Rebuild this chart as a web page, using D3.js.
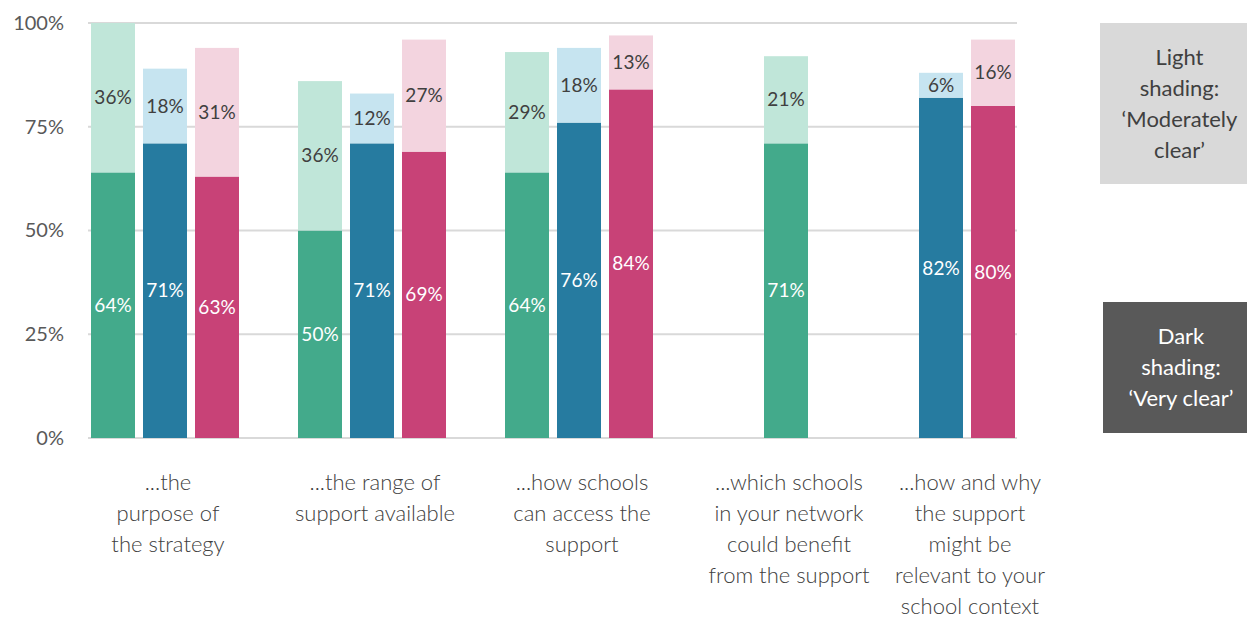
<!DOCTYPE html>
<html>
<head>
<meta charset="utf-8">
<script src="https://cdn.jsdelivr.net/npm/d3@7"></script>
<style>
  body { margin: 0; background: #fff; }
  svg { display: block; font-family: Lato, "Open Sans", sans-serif; }
</style>
</head>
<body>
<div id="chart"></div>
<script>
// categories (one entry per line of the wrapped label)
var categories = [
    ["...the", "purpose of", "the strategy"],
    ["...the range of", "support available"],
    ["...how schools", "can access the", "support"],
    ["...which schools", "in your network", "could benefit", "from the support"],
    ["...how and why", "the support", "might be", "relevant to your", "school context"]
];
var seriesKeys = ["green", "blue", "pink"];

// 'Very clear' (dark) and 'Moderately clear' (light), in %
var greenVery = [64, 50, 64, 71, null];
var greenModerate = [36, 36, 29, 21, null];
var blueVery = [71, 71, 76, null, 82];
var blueModerate = [18, 12, 18, null, 6];
var pinkVery = [63, 69, 84, null, 80];
var pinkModerate = [31, 27, 13, null, 16];

var yTicks = [0, 0.25, 0.5, 0.75, 1];

var colors = {
    green: {dark: "#43aa8b", light: "#c0e6d9"},
    blue: {dark: "#267ba0", light: "#c6e4f0"},
    pink: {dark: "#c84277", light: "#f3d4df"}
};
var values = {
    green: {dark: greenVery, light: greenModerate},
    blue: {dark: blueVery, light: blueModerate},
    pink: {dark: pinkVery, light: pinkModerate}
};

var width = 1247, height = 618;
var svg = d3.select("#chart").append("svg")
    .attr("width", width)
    .attr("height", height);

var y = d3.scaleLinear().domain([0, 1]).range([438, 23]);

var x0 = d3.scaleBand()
    .domain(d3.range(categories.length))
    .range([91, 91 + 207 * categories.length]);
var x1 = d3.scaleBand()
    .domain([0, 1, 2])
    .range([0, 148])
    .paddingInner(8 / 52);

// gridlines
svg.append("g").selectAll("line")
    .data(yTicks)
    .enter().append("line")
    .attr("x1", 88)
    .attr("x2", 1017)
    .attr("y1", function(d){ return y(d); })
    .attr("y2", function(d){ return y(d); })
    .style("stroke", "#d9d9d9")
    .style("stroke-width", 2);

// y axis labels
var yAxis = svg.append("g")
    .attr("transform", "translate(64,0)")
    .call(d3.axisLeft(y).tickValues(yTicks).tickFormat(d3.format(".0%")).tickSize(0).tickPadding(0));
yAxis.select(".domain").remove();
yAxis.selectAll("text")
    .style("font-size", "20px")
    .style("font-family", "Lato, 'Open Sans', sans-serif")
    .style("fill", "#595959");

// build bar list
var bars = [];
categories.forEach(function(c, i){
    var present = seriesKeys.filter(function(k){ return values[k].dark[i] != null; });
    var start = Math.floor((3 - present.length) / 2);
    present.forEach(function(k, j){
        var dv = values[k].dark[i] / 100, lv = values[k].light[i] / 100;
        bars.push({cat: i, slot: start + j, key: k, part: "dark", y0: 0, y1: dv, v: values[k].dark[i]});
        bars.push({cat: i, slot: start + j, key: k, part: "light", y0: dv, y1: dv + lv, v: values[k].light[i]});
    });
});

var barG = svg.append("g");
barG.selectAll("rect")
    .data(bars)
    .enter().append("rect")
    .attr("x", function(d){ return x0(d.cat) + x1(d.slot); })
    .attr("width", x1.bandwidth())
    .attr("y", function(d){ return y(d.y1); })
    .attr("height", function(d){ return y(d.y0) - y(d.y1); })
    .style("fill", function(d){ return colors[d.key][d.part]; });

barG.selectAll("text")
    .data(bars)
    .enter().append("text")
    .attr("x", function(d){ return x0(d.cat) + x1(d.slot) + x1.bandwidth() / 2; })
    .attr("y", function(d){ return (y(d.y0) + y(d.y1)) / 2; })
    .attr("dy", "0.35em")
    .attr("text-anchor", "middle")
    .style("font-size", "19px")
    .style("fill", function(d){ return d.part === "dark" ? "#ffffff" : "#404040"; })
    .text(function(d){ return d.v + "%"; });

// category labels, centred under the bars present
var labelG = svg.append("g");
categories.forEach(function(lines, i){
    var present = bars.filter(function(b){ return b.cat === i; });
    var xs = present.map(function(b){ return x0(b.cat) + x1(b.slot); });
    var cx = (d3.min(xs) + d3.max(xs) + x1.bandwidth()) / 2 + 3;
    var t = labelG.append("text")
        .attr("text-anchor", "middle")
        .style("font-size", "22px")
        .style("font-weight", 300)
        .style("fill", "#404040");
    lines.forEach(function(l, j){
        t.append("tspan")
            .attr("x", cx)
            .attr("y", 482 + j * 31)
            .attr("dy", "0.35em")
            .text(l);
    });
});

// legend boxes
var legend = [
    {x: 1100, y: 23, w: 147, h: 161, fill: "#d9d9d9", color: "#404040", lines: ["Light", "shading:", "\u2018Moderately", "clear\u2019"]},
    {x: 1103, y: 302, w: 144, h: 131, fill: "#595959", color: "#ffffff", lines: ["Dark", "shading:", "\u2018Very clear\u2019"]}
];
legend.forEach(function(l){
    svg.append("rect")
        .attr("x", l.x).attr("y", l.y)
        .attr("width", l.w).attr("height", l.h)
        .style("fill", l.fill);
    var t = svg.append("text")
        .attr("text-anchor", "middle")
        .style("font-size", "22px")
        .style("fill", l.color);
    var top = l.y + l.h / 2 - (l.lines.length - 1) * 31 / 2;
    l.lines.forEach(function(s, j){
        t.append("tspan")
            .attr("x", l.x + l.w / 2 + 6)
            .attr("y", top + j * 31)
            .attr("dy", "0.35em")
            .text(s);
    });
});
</script>
</body>
</html>
